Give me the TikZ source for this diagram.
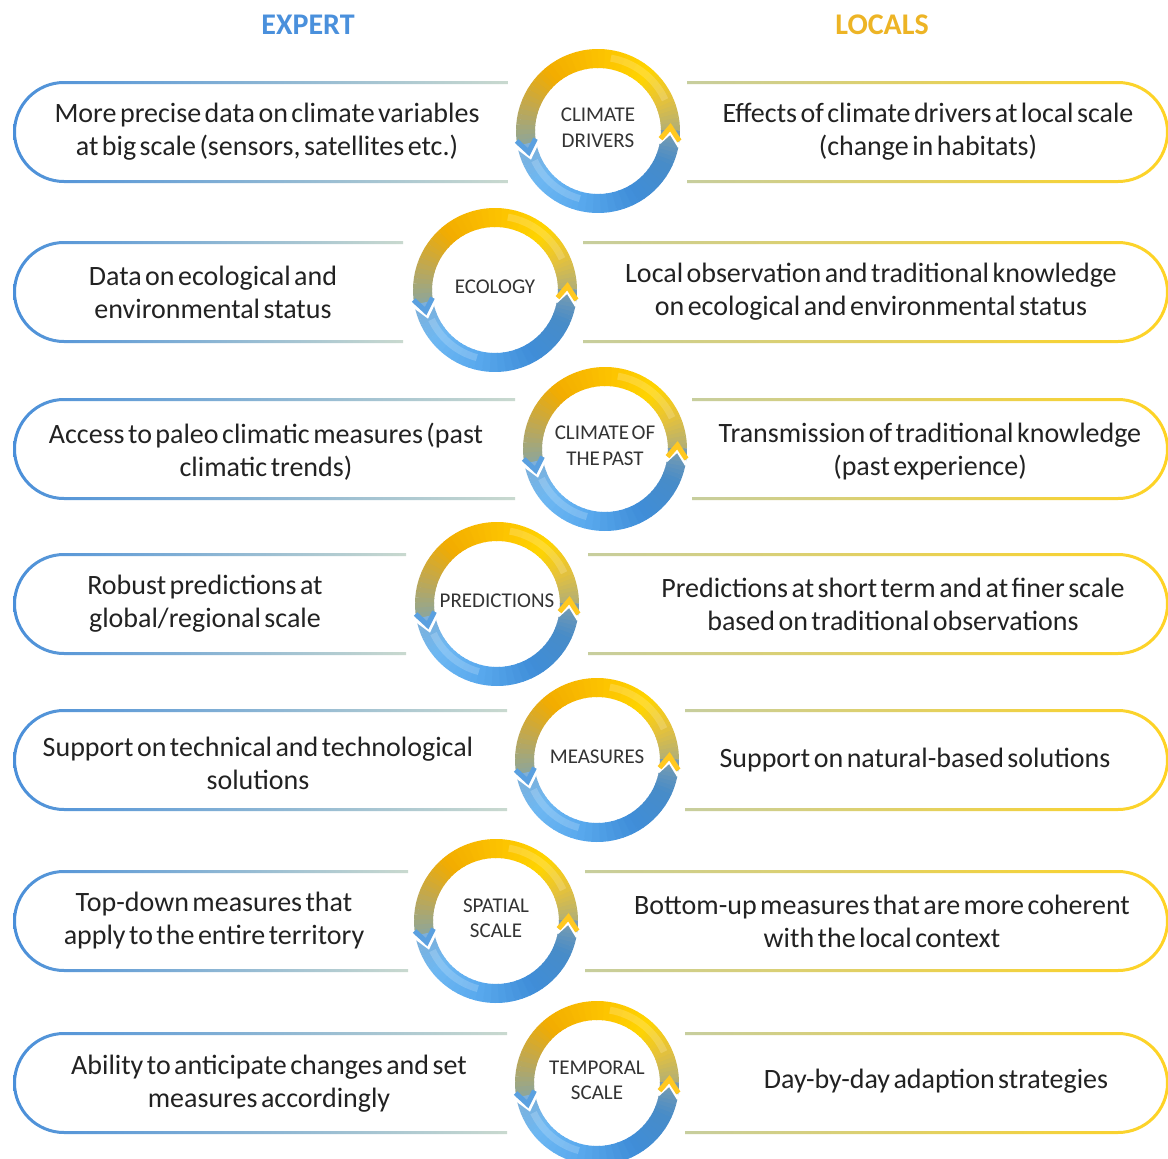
\documentclass[tikz,border=0pt]{standalone}
\usepackage{fontspec}
\setmainfont{Carlito}[WordSpace=0.55]
\usetikzlibrary{calc}
\definecolor{txt}{HTML}{222222}
\definecolor{ringtxt}{HTML}{333333}
\definecolor{expblue}{HTML}{4A90DC}
\definecolor{locgold}{HTML}{EDB425}
\definecolor{lbA}{HTML}{4A8FD9}
\definecolor{lbB}{HTML}{92C1EE}
\definecolor{lbC}{HTML}{C9D9CF}
\definecolor{rbA}{HTML}{C7CE9E}
\definecolor{rbB}{HTML}{F5D94E}
\definecolor{rbC}{HTML}{FFD323}
\definecolor{rya}{HTML}{B0AE78}
\definecolor{ryb}{HTML}{E6C23A}
\definecolor{ryc}{HTML}{FFD400}
\definecolor{ryd}{HTML}{FCC100}
\definecolor{rye}{HTML}{F2AC00}
\definecolor{ryf}{HTML}{C2A84E}
\definecolor{ryg}{HTML}{8DA69A}
\definecolor{bla}{HTML}{7FB0D8}
\definecolor{blb}{HTML}{6DB7F2}
\definecolor{blc}{HTML}{5AAAEE}
\definecolor{bld}{HTML}{3F8DD8}
\definecolor{ble}{HTML}{488CC8}
\definecolor{blf}{HTML}{7D9DAE}
\definecolor{chb}{HTML}{5AA0E0}
\definecolor{chy}{HTML}{FFC820}
\newcommand\mylbox[2]{%
 \shade[leftband] (#2,-#1+51) -- (64,-#1+51) arc[start angle=90,end angle=270,radius=51] -- (#2,-#1-51) -- (#2,-#1-48) -- (64,-#1-48) arc[start angle=270,end angle=90,radius=48] -- (#2,-#1+48) -- cycle;}
\newcommand\myrbox[2]{%
 \shade[rightband] (#2,-#1+51) -- (1118,-#1+51) arc[start angle=90,end angle=-90,radius=51] -- (#2,-#1-51) -- (#2,-#1-48) -- (1118,-#1-48) arc[start angle=-90,end angle=90,radius=48] -- (#2,-#1+48) -- cycle;}
\newcommand\myring[1]{%
 \foreach \a/\b/\ca/\cb in {0/25/rya/ryb,25/50/ryb/ryc,50/90/ryc/ryd,90/130/ryd/rye,130/160/rye/ryf,160/190/ryf/ryg,190/220/bla/blb,220/255/blb/blc,255/300/blc/bld,300/335/bld/ble,335/360/ble/blf}{%
  \foreach \t in {0,...,7}{%
   \pgfmathsetmacro\sa{\a+(\b-\a)*\t/8}%
   \pgfmathsetmacro\se{\a+(\b-\a)*(\t+1)/8+0.6}%
   \pgfmathtruncatemacro\pp{100*(\t+0.5)/8}%
   \draw[line width=19, color=\cb!\pp!\ca] ([shift={(\sa:72.5)}]#1) arc[start angle=\sa, end angle=\se, radius=72.5];
  }}%
 \draw[white, opacity=.18, line width=7] ([shift={(25:74)}]#1) arc[start angle=25,end angle=80,radius=74];
 \draw[white, opacity=.18, line width=7] ([shift={(205:70)}]#1) arc[start angle=205,end angle=255,radius=70];
 \draw[white, line width=3.5] ([shift={(191:62)}]#1) -- ([shift={(201:72.5)}]#1) -- ([shift={(191:83)}]#1);
 \draw[chb, line width=5] ([shift={(187:63)}]#1) -- ([shift={(197:72.5)}]#1) -- ([shift={(187:82)}]#1);
 \draw[white, line width=3.5] ([shift={(349:62)}]#1) -- ([shift={(359:72.5)}]#1) -- ([shift={(349:83)}]#1);
 \draw[chy, line width=5] ([shift={(353:63)}]#1) -- ([shift={(3:72.5)}]#1) -- ([shift={(353:82)}]#1);
}
\begin{document}
\begin{tikzpicture}[x=1pt,y=1pt,
 bodytext/.style={align=center, text=txt, font=\fontsize{28}{33}\selectfont, inner sep=0pt},
 ringtext/.style={align=center, text=ringtxt, font=\fontsize{21}{25.5}\selectfont, inner sep=0pt},
 header/.style={font=\fontsize{30}{36}\selectfont\bfseries, inner sep=0pt},
 leftband/.style={left color=lbA, middle color=lbB, right color=lbC},
 rightband/.style={left color=rbA, middle color=rbB, right color=rbC}]
\useasboundingbox (0,0) rectangle (1168,-1159);
\fill[white] (0,0) rectangle (1168,-1159);

\node[header, text=expblue] (hexp) at (308,-25) {EXPERT};
\node[header, text=locgold] (hloc) at (882,-25) {LOCALS};

% row 1
\mylbox{132}{508}\myrbox{132}{687}
\coordinate (c1) at (598,-131);
\myring{c1}
\node[ringtext] (t1) at ([yshift=3pt]c1) {CLIMATE\\DRIVERS};
\node[bodytext] (l1) at (267,-132) {More precise data on climate variables\\at big scale (sensors, satellites etc.)};
\node[bodytext] (r1) at (928,-132) {Effects of climate drivers at local scale\\(change in habitats)};

% row 2
\mylbox{292}{403}\myrbox{292}{583}
\coordinate (c2) at (495,-290);
\myring{c2}
\node[ringtext] (t2) at ([yshift=3pt]c2) {ECOLOGY};
\node[bodytext] (l2) at (213,-292) {Data on ecological and\\environmental status};
\node[bodytext] (r2) at (871,-292) {Local observation and traditional knowledge\\on ecological and environmental status};

% row 3
\mylbox{449}{515}\myrbox{449}{692}
\coordinate (c3) at (605,-449);
\myring{c3}
\node[ringtext] (t3) at ([yshift=3pt]c3) {CLIMATE OF\\THE PAST};
\node[bodytext] (l3) at (266,-452) {Access to paleo climatic measures (past\\climatic trends)};
\node[bodytext] (r3) at (930,-452) {Transmission of traditional knowledge\\(past experience)};

% row 4
\mylbox{604}{406}\myrbox{604}{588}
\coordinate (c4) at (497,-604);
\myring{c4}
\node[ringtext] (t4) at ([yshift=3pt]c4) {PREDICTIONS};
\node[bodytext] (l4) at (205,-604) {Robust predictions at\\global/regional scale};
\node[bodytext] (r4) at (893,-604) {Predictions at short term and at finer scale\\based on traditional observations};

% row 5
\mylbox{760}{507}\myrbox{760}{685}
\coordinate (c5) at (597,-760);
\myring{c5}
\node[ringtext] (t5) at ([yshift=3pt]c5) {MEASURES};
\node[bodytext] (l5) at (258,-763) {Support on technical and technological\\solutions};
\node[bodytext] (r5) at (915,-760) {Support on natural-based solutions};

% row 6
\mylbox{921}{408}\myrbox{921}{585}
\coordinate (c6) at (496,-921);
\myring{c6}
\node[ringtext] (t6) at ([yshift=3pt]c6) {SPATIAL\\SCALE};
\node[bodytext] (l6) at (214,-921) {Top-down measures that\\apply to the entire territory};
\node[bodytext] (r6) at (882,-921) {Bottom-up measures that are more coherent\\with the local context};

% row 7
\mylbox{1083}{507}\myrbox{1083}{685}
\coordinate (c7) at (597,-1083);
\myring{c7}
\node[ringtext] (t7) at ([yshift=3pt]c7) {TEMPORAL\\SCALE};
\node[bodytext] (l7) at (269,-1084) {Ability to anticipate changes and set\\measures accordingly};
\node[bodytext] (r7) at (936,-1081) {Day-by-day adaption strategies};
\end{tikzpicture}
\end{document}
